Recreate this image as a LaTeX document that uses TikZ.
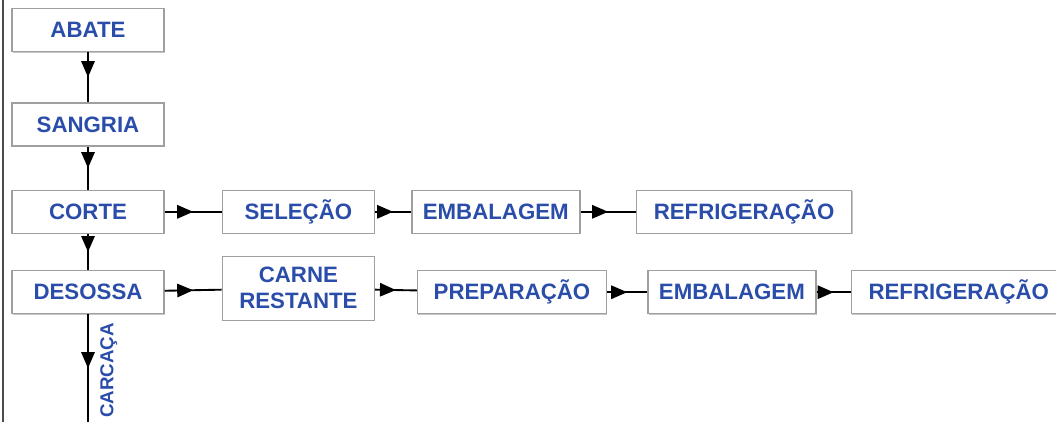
\documentclass[tikz,border=0pt]{standalone}
\usepackage{fontspec}
\setmainfont{Liberation Sans}
\usetikzlibrary{arrows.meta,positioning,decorations.markings,shadows}

\definecolor{txtblue}{RGB}{43,77,170}
\definecolor{boxgray}{RGB}{160,160,160}

\begin{document}
\begin{tikzpicture}[node distance=1.5cm,semithick]

            \tikzstyle{etapa}=[draw=boxgray,line width=1.2pt,fill=white,text=txtblue,
                drop shadow={shadow xshift=0.03cm,shadow yshift=-0.03cm,fill=gray!45,opacity=1},
                minimum width=4.56cm,minimum height=1.29cm,inner sep=0pt,align=center,
                font=\bfseries\fontsize{19}{22}\selectfont]
            \tikzstyle{fluxo}=[draw=black,line width=1.6pt,postaction={decorate},
                decoration={markings,mark=at position 0.5 with {\arrow{Triangle[length=0.48cm,width=0.4cm]}}}]

            \useasboundingbox (0,0) rectangle (31.68,-12.66);
            \coordinate (moldura topo) at (0.09,0);
            \coordinate (moldura base) at (0.09,-12.66);
            \draw[gray!60!black,line width=1.5pt] (moldura topo) -- (moldura base);

            % coluna principal
            \node[etapa] (abate) at (2.64,-0.9) {ABATE};
            \node[etapa] (sangria)  [below=1.5cm of abate]   {SANGRIA};
            \node[etapa] (corte)    [below=1.29cm of sangria] {CORTE};
            \node[etapa] (desossa)  [below=1.08cm of corte]   {DESOSSA};

            % linha do corte
            \node[etapa] (selecao)  [right=1.71cm of corte]   {SELEÇÃO};
            \node[etapa,minimum width=5.04cm] (embalagem1) [right=1.08cm of selecao] {EMBALAGEM};
            \node[etapa,minimum width=6.45cm] (refrigeracao1) [right=1.66cm of embalagem1] {REFRIGERAÇÃO};

            % linha da desossa
            \node[etapa,minimum height=1.92cm] (carne) [right=1.71cm of desossa,yshift=0.12cm] {CARNE\\RESTANTE};
            \node[etapa,minimum width=5.67cm] (preparacao) [right=1.25cm of carne,yshift=-0.12cm] {PREPARAÇÃO};
            \node[etapa,minimum width=5.04cm] (embalagem2) [right=1.2cm of preparacao] {EMBALAGEM};
            \node[etapa,minimum width=6.45cm] (refrigeracao2) [right=1.02cm of embalagem2] {REFRIGERAÇÃO};

            \coordinate (fim carcaca) at (desossa.south |- moldura base);

            \draw[fluxo] (abate) -- (sangria);
            \draw[fluxo] (sangria) -- (corte);
            \draw[fluxo] (corte) -- (desossa);
            \draw[fluxo] (desossa.south) -- (fim carcaca);

            \draw[fluxo] (corte) -- (selecao);
            \draw[fluxo] (selecao) -- (embalagem1);
            \draw[fluxo] (embalagem1) -- (refrigeracao1);

            \draw[fluxo] (desossa) -- (carne);
            \draw[fluxo] (carne) -- (preparacao);
            \draw[fluxo] (preparacao) -- (embalagem2);
            \draw[fluxo] (embalagem2) -- (refrigeracao2);

            \node[text=txtblue,font=\bfseries\fontsize{16}{18}\selectfont,rotate=90,anchor=north,inner sep=0pt]
                (carcaca) at ([xshift=0.36cm,yshift=-1.68cm]desossa.south) {CARCAÇA};
        \end{tikzpicture}
\end{document}
